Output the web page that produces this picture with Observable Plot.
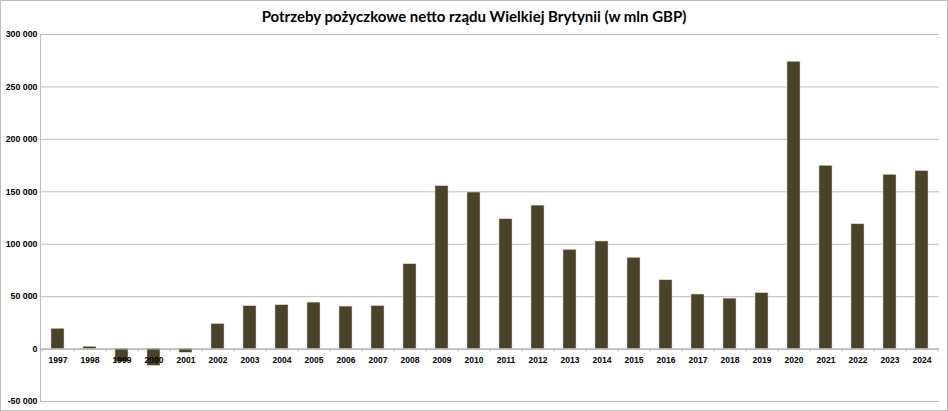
<!DOCTYPE html>
<html><head><meta charset="utf-8">
<script src="https://cdn.jsdelivr.net/npm/d3@7"></script>
<script src="https://cdn.jsdelivr.net/npm/@observablehq/plot@0.6"></script>
<style>
body{margin:0;background:#fff;}
#wrap{position:relative;width:948px;height:411px;overflow:hidden;background:#fff;}
#frame{position:absolute;left:0;top:0;width:946px;height:409px;border:1px solid #bdbdbd;pointer-events:none;}
#title{position:absolute;left:0;top:7px;width:948px;line-height:16px;text-align:center;font:700 15px Lato, "Open Sans", sans-serif;color:#000;white-space:nowrap;}
#chart{position:absolute;left:0;top:30px;}
#chart svg{display:block;}
</style></head><body>
<div id="wrap"><div id="title">Potrzeby pożyczkowe netto rządu Wielkiej Brytynii (w mln GBP)</div><div id="chart"></div><div id="frame"></div></div>
<script>
const years = ["1997","1998","1999","2000","2001","2002","2003","2004","2005","2006","2007","2008","2009","2010","2011","2012","2013","2014","2015","2016","2017","2018","2019","2020","2021","2022","2023","2024"];
const values = [19300, 2200, -12500, -16000, -3500, 23800, 40900, 41800, 44300, 40500, 41000, 80900, 155300, 149300, 123800, 136800, 94600, 102600, 87000, 65600, 52000, 48100, 53300, 274000, 174700, 119000, 166100, 169700];
const yTicks = [-50000, 0, 50000, 100000, 150000, 200000, 250000, 300000];

const data = years.map((year, i) => ({year, value: values[i]}));
const fmt = v => (v < 0 ? "-" : "") + d3.format(",")(Math.abs(v)).replace(/,/g, " ");

const W = 948, H = 381, mL = 40, mR = 9, mT = 4, mB = 10;
const half = (W - mL - mR) / years.length / 2;
const grid = "#bfbfbf";

const chart = Plot.plot({
  width: W, height: H,
  marginLeft: mL, marginRight: mR, marginTop: mT, marginBottom: mB,
  style: {fontFamily: "'Liberation Sans', Arial, sans-serif", background: "#fff"},
  x: {type: "band", domain: years, paddingInner: 0.6, paddingOuter: 0.3, axis: null},
  y: {domain: [-50000, 300000], axis: null},
  marks: [
    Plot.ruleY(yTicks, {stroke: grid, strokeWidth: 1}),
    Plot.frame({anchor: "left", stroke: grid}),
    Plot.barY(data, {x: "year", y: "value", fill: "#494429", stroke: "#d6d2c2", strokeWidth: 0.5}),
    Plot.ruleY([0], {stroke: "#a6a6a6"}),
    Plot.ruleX(years, {x: d => d, y1: 0, y2: 0, insetBottom: -3, dx: -half, stroke: grid}),
    Plot.ruleX([years[years.length - 1]], {x: d => d, y1: 0, y2: 0, insetBottom: -3, dx: half, stroke: grid}),
    Plot.text(data, {x: "year", y: d => 0, text: "year", dy: 11, fontWeight: "bold", fontSize: 8.5, fill: "#000"}),
    Plot.text(yTicks, {y: d => d, text: d => fmt(d), frameAnchor: "left", textAnchor: "end", dx: -3, fontWeight: "bold", fontSize: 8.8, fill: "#000"})
  ]
});
document.getElementById("chart").appendChild(chart);
</script>
</body></html>
